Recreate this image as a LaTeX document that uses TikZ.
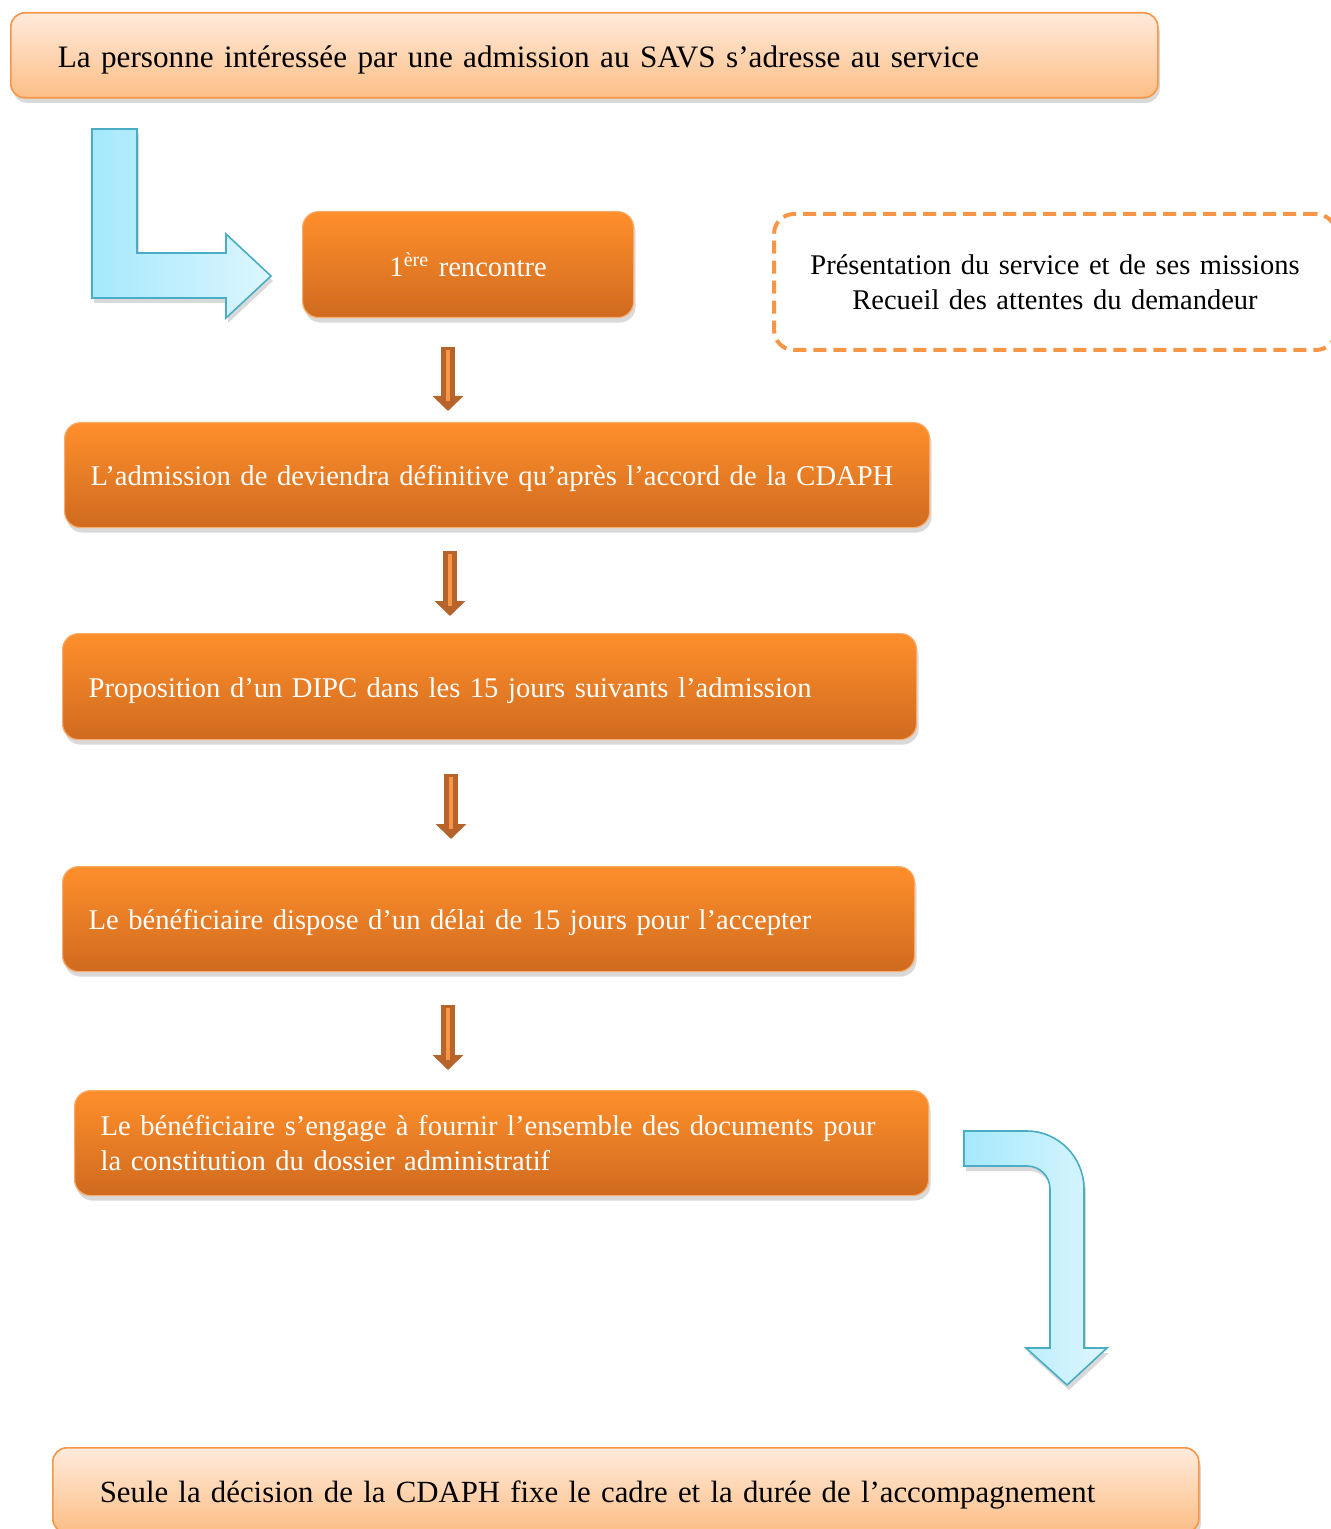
\documentclass[tikz,border=0pt]{standalone}
\usepackage{fontspec}
\setmainfont{Liberation Serif}
\usetikzlibrary{positioning,shadows,arrows.meta}

\definecolor{peachtop}{HTML}{FFEBDC}
\definecolor{peachbot}{HTML}{FCBE86}
\definecolor{orline}{HTML}{F79646}
\definecolor{ortop}{HTML}{FF8F2B}
\definecolor{orbot}{HTML}{CF6A1F}
\definecolor{brown}{HTML}{B6642C}
\definecolor{bluel}{HTML}{A5E9FD}
\definecolor{bluer}{HTML}{DDF6FD}
\definecolor{bluedge}{HTML}{4BACC6}

\tikzset{
  boxshadow/.style={drop shadow={shadow xshift=1pt,shadow yshift=-2.5pt,opacity=0.3}},
  palebox/.style={draw=orline,line width=0.8pt,rounded corners=7pt,
    top color=peachtop,bottom color=peachbot,boxshadow,
    anchor=north west,align=left,inner xsep=23.5pt,font=\fontsize{15.6}{19}\selectfont},
  orbox/.style={draw=orline!80,line width=0.6pt,rounded corners=8pt,
    top color=ortop,bottom color=orbot,boxshadow,text=white,
    anchor=north west,align=left,inner xsep=13pt,font=\fontsize{14.3}{17.5}\selectfont},
  oneline/.style={text height=1.3em,text depth=0.25em},
  paleline/.style={text height=1.5em,text depth=0.25em},
  notebox/.style={draw=orline,line width=2pt,dash pattern=on 6.5pt off 3.5pt,
    rounded corners=10pt,anchor=north west,align=center,inner xsep=0pt,
    font=\fontsize{14.25}{17.5}\selectfont},
  blueblock/.style={draw=bluedge,line width=0.8pt,left color=bluel,right color=bluer,boxshadow},
  link/.style={brown,line width=7pt,-{Triangle[width=15pt,length=7.5pt]}},
  linkin/.style={orline,line width=2pt},
}

\begin{document}
\begin{tikzpicture}[x=0.5pt,y=-0.5pt]
\useasboundingbox (0,0) rectangle (1331,1529);

% boxes
\node[palebox,paleline,text width=526.5pt,minimum height=42.5pt] (start) at (10,12)
  {La personne intéressée par une admission au SAVS s’adresse au service};
\node[orbox,align=center,inner xsep=0pt,text width=165.5pt,minimum height=53pt] (meet) at (302,211)
  {1\textsuperscript{ère} rencontre};
\node[notebox,text width=281pt,minimum height=68pt] (note) at (772,212)
  {Présentation du service et de ses missions\\Recueil des attentes du demandeur};
\node[orbox,oneline,text width=406.5pt,minimum height=52.5pt] (adm) at (64,422)
  {L’admission de deviendra définitive qu’après l’accord de la CDAPH};
\node[orbox,oneline,text width=401pt,minimum height=53pt] (prop) at (62,633)
  {Proposition d’un DIPC dans les 15 jours suivants l’admission};
\node[orbox,oneline,text width=400pt,minimum height=52.5pt] (delai) at (62,866)
  {Le bénéficiaire dispose d’un délai de 15 jours pour l’accepter};
\node[orbox,text width=401pt,minimum height=52.5pt] (docs) at (74,1090)
  {Le bénéficiaire s’engage à fournir l’ensemble des documents pour\\la constitution du dossier administratif};
\node[palebox,paleline,font=\fontsize{15.4}{19}\selectfont,text width=526pt,minimum height=42.5pt] (final) at (52,1447)
  {Seule la décision de la CDAPH fixe le cadre et la durée de l’accompagnement};

% links
\foreach \a/\b/\ax/\s/\e in {meet/adm/448/14.5/5.5,adm/prop/450/11.5/8.5,
                             prop/delai/451/17/13.5,delai/docs/448/16.5/10}{
  \coordinate (ax) at (\ax,0);
  \draw[link,shorten <=\s pt,shorten >=\e pt] (\a.south -| ax) -- (\b.north -| ax);
  \draw[linkin,shorten <=\s pt+1.5pt,shorten >=\e pt+5pt] (\a.south -| ax) -- (\b.north -| ax);
}

% blue arrows
\draw[blueblock] (92,129) -- (137,129) -- (137,253) -- (226,253) -- (226,234)
  -- (271,276) -- (226,318) -- (226,298) -- (92,298) -- cycle;
\draw[blueblock] (964,1131) -- (1027,1131) .. controls (1058.5,1131) and (1084,1157.5) .. (1084,1189)
  -- (1084,1348) -- (1107,1348) -- (1067,1385) -- (1026,1348) -- (1050,1348) -- (1050,1189)
  .. controls (1050,1176.3) and (1039.7,1166) .. (1027,1166) -- (964,1166) -- cycle;
\end{tikzpicture}
\end{document}
